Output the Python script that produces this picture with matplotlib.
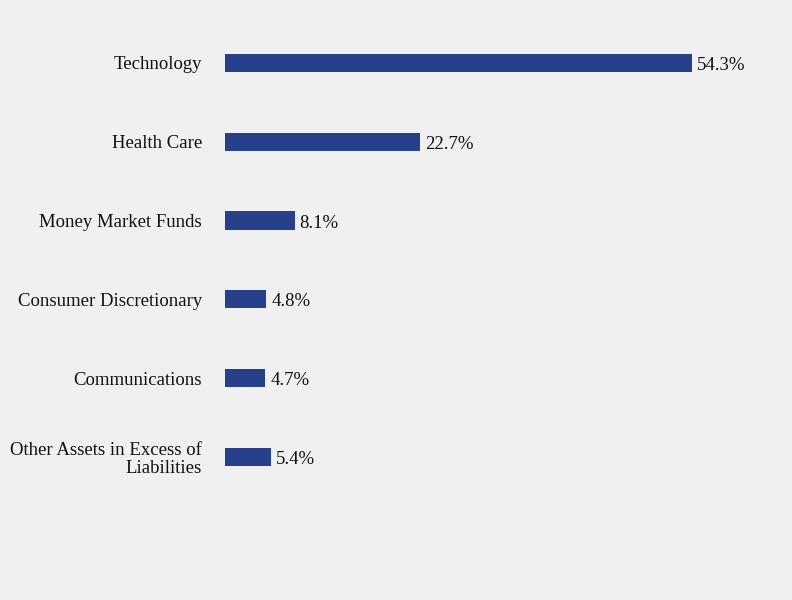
import matplotlib
matplotlib.use("Agg")
import matplotlib.pyplot as plt

categories = ["Technology", "Health Care", "Money Market Funds",
              "Consumer Discretionary", "Communications",
              "Other Assets in Excess of\nLiabilities"]
values = [54.3, 22.7, 8.1, 4.8, 4.7, 5.4]
value_labels = ["54.3%", "22.7%", "8.1%", "4.8%", "4.7%", "5.4%"]

plt.rcParams['font.family'] = ['Liberation Serif', 'DejaVu Serif']

bg = "#f0f0f0"
fig = plt.figure(figsize=(7.92, 6.0), dpi=100, facecolor=bg)
ax = fig.add_axes([225/792, 1-575/600, (792-225)/792, (575-23.6)/600], facecolor=bg)

ypos = list(range(len(categories)))
ax.barh(ypos, values, height=0.23, color="#26408b")
for y, v, t in zip(ypos, values, value_labels):
    ax.annotate(t, (v, y), xytext=(3.5, -0.5), textcoords="offset points",
                va="center_baseline", ha="left", fontsize=13.5, color="#111111")

ax.set_xlim(0, (792-225)/(467/54.3))
ax.set_ylim(6.5, -0.5)
ax.set_yticks(ypos)
ax.set_yticklabels(categories, fontsize=13.5, color="#111111", linespacing=1.1)
for lbl in ax.get_yticklabels():
    lbl.set_verticalalignment("center_baseline")
ax.tick_params(axis='y', length=0, pad=16.5)
ax.set_xticks([])
for s in ax.spines.values():
    s.set_visible(False)

fig.savefig("out.png", dpi=100, facecolor=bg)
